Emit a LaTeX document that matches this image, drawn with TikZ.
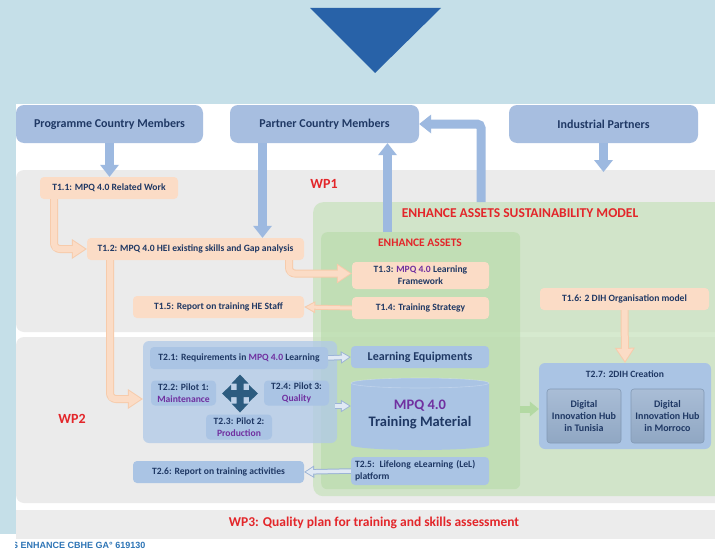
\documentclass[tikz,border=0pt]{standalone}
\usepackage{fontspec}
\setmainfont{Carlito}
\newfontfamily\footfont{Liberation Sans}
\usetikzlibrary{arrows.meta}
\definecolor{bgblue}{HTML}{C5DFE8}
\definecolor{tri}{HTML}{2862A8}
\definecolor{topbox}{HTML}{A7BEE0}
\definecolor{band}{HTML}{EBEBEB}
\definecolor{bandb}{HTML}{ECECEC}
\definecolor{greenout}{HTML}{C6E2BB}
\definecolor{greenin}{HTML}{B2DAA2}
\definecolor{peach}{HTML}{FBDCC6}
\definecolor{peachline}{HTML}{F7CBAB}
\definecolor{taskblue}{HTML}{AAC4E4}
\definecolor{grpblue}{HTML}{B0C9E8}
\definecolor{wpred}{HTML}{E3262A}
\definecolor{mpqpurple}{HTML}{7030A0}
\definecolor{navy}{HTML}{1F3864}
\definecolor{dihtop}{HTML}{A9BDD6}
\definecolor{dihbot}{HTML}{90A7C3}
\definecolor{dihline}{HTML}{8299B5}
\definecolor{fourc}{HTML}{2D5C80}
\definecolor{holfill}{HTML}{E0E9F4}
\definecolor{holline}{HTML}{9CB4D6}
\definecolor{solblue}{HTML}{9DB9E0}
\definecolor{garrow}{HTML}{B3D9A3}
\definecolor{foot}{HTML}{2E75B6}
\newcommand{\mpqc}[1]{{\color{mpqpurple}#1}}
\newcommand{\tfont}{\fontsize{9.6}{12}\selectfont\bfseries}
\begin{document}
\begin{tikzpicture}[x=1pt,y=-1pt,
  sz/.style 2 args={minimum width=#1pt, minimum height=#2pt},
  topnode/.style={rounded corners=8pt, fill=topbox, inner sep=0pt, text=navy,
    font=\fontsize{12}{14}\selectfont\bfseries},
  ptask/.style={rounded corners=4pt, fill=peach, inner sep=0pt, text=navy, align=center, font=\tfont},
  btask/.style={rounded corners=4pt, fill=taskblue, inner sep=0pt, text=navy, align=center, font=\tfont},
  wplabel/.style={text=wpred, font=\fontsize{14}{16}\selectfont\bfseries, inner sep=0pt},
  solarr/.style={draw=solblue, line width=9pt, -{Triangle[width=19pt,length=12pt,line width=0pt]}},
  pout/.style={draw=peachline, line width=8pt, -{Triangle[width=20pt,length=15pt,line width=0pt]}},
  pin/.style={draw=peach, line width=6pt, shorten >=1.8pt, -{Triangle[width=16.3pt,length=12.2pt,line width=0pt]}},
  pthinout/.style={draw=peachline, line width=5pt, -{Triangle[width=12pt,length=11pt,line width=0pt]}},
  pthinin/.style={draw=peach, line width=3pt, shorten >=2.1pt, -{Triangle[width=8.6pt,length=7.9pt,line width=0pt]}},
  hout/.style={draw=holline, line width=5.5pt, -{Triangle[width=12.5pt,length=10pt,line width=0pt]}},
  hin/.style={draw=holfill, line width=3.5pt, shorten >=1.7pt, -{Triangle[width=9pt,length=7.2pt,line width=0pt]}},
]
\useasboundingbox (0,0) rectangle (715,551);
% backgrounds
\fill[white] (0,0) rectangle (715,551);
\fill[bgblue] (0,0) rectangle (715,104);
\fill[bgblue] (0,0) rectangle (15.5,534);
\fill[tri] (310,8) -- (441,8) -- (375,73) -- cycle;
% bands
\fill[band, rounded corners=8pt] (16,170) rectangle (740,332);
\fill[band, rounded corners=8pt] (16,337) rectangle (740,503);
\fill[bandb] (16,510) rectangle (715,539);
% green areas
\node[fill=greenout, fill opacity=0.7, rounded corners=10pt, inner sep=0pt, sz={430}{294}, anchor=north west] (esm) at (313,202) {};
\node[fill=greenin, fill opacity=0.5, rounded corners=6pt, inner sep=0pt, sz={199}{257}, anchor=north west] (ea) at (321,232) {};
\node[text=wpred, font=\fontsize{13.5}{15}\selectfont\bfseries] (esmt) at (520,213) {ENHANCE ASSETS SUSTAINABILITY MODEL};
\node[text=wpred, font=\fontsize{11.5}{13}\selectfont\bfseries] (eat) at (420,243) {ENHANCE ASSETS};
% WP labels
\node[wplabel] (wp1) at (324,184) {WP1};
\node[wplabel] (wp2) at (72,419) {WP2};
\node[wplabel, font=\fontsize{13.5}{15}\selectfont\bfseries] (wp3) at (374,523) {WP3: Quality plan for training and skills assessment};
% top boxes
\node[topnode, sz={187}{38}] (pcm) at (109.5,124) {Programme Country Members};
\node[topnode, sz={189}{38}] (ptm) at (324.5,124) {Partner Country Members};
\node[topnode, sz={189}{38}] (ind) at (603.5,124) {Industrial Partners};
% WP1 tasks
\node[ptask, sz={138}{22}] (t11) at (109,188) {T1.1: MPQ 4.0 Related Work};
\node[ptask, sz={217}{22}] (t12) at (195.5,249) {T1.2: MPQ 4.0 HEI existing skills and Gap analysis};
\node[ptask, sz={171}{22}] (t15) at (218.5,307) {T1.5: Report on training HE Staff};
\node[ptask, sz={137}{27}] (t13) at (420.5,275.5) {T1.3: \mpqc{MPQ 4.0} Learning\\Framework};
\node[ptask, sz={137}{22}] (t14) at (420.5,308) {T1.4: Training Strategy};
\node[ptask, sz={169}{22}] (t16) at (624.5,299) {T1.6: 2 DIH Organisation model};
% WP2 group
\node[fill=grpblue, fill opacity=0.75, rounded corners=6pt, inner sep=0pt, sz={194}{102}] (grp) at (240,392) {};
\node[btask, sz={178}{22}] (t21) at (239,358) {T2.1: Requirements in \mpqc{MPQ 4.0} Learning};
\node[btask, sz={65}{25}] (t22) at (183.5,393) {T2.2: Pilot 1:\\\mpqc{Maintenance}};
\node[btask, sz={65}{25}] (t24) at (296.5,393) {T2.4: Pilot 3:\\\mpqc{Quality}};
\node[btask, sz={66}{25}] (t23) at (239,427) {T2.3: Pilot 2:\\\mpqc{Production}};
\coordinate (cross) at (240,393.5);
\fill[fourc, shift={(cross)}] (18,0) -- (9,-8.5) -- (9,-3.5) -- (3.5,-3.5) -- (3.5,-10) -- (8.5,-10) -- (0,-19)
  -- (-8.5,-10) -- (-3.5,-10) -- (-3.5,-3.5) -- (-9,-3.5) -- (-9,-8.5) -- (-18,0) -- (-9,8.5) -- (-9,3.5)
  -- (-3.5,3.5) -- (-3.5,10) -- (-8.5,10) -- (0,19) -- (8.5,10) -- (3.5,10) -- (3.5,3.5) -- (9,3.5) -- (9,8.5) -- cycle;
\node[btask, sz={138}{22}, font=\fontsize{12}{14}\selectfont\bfseries] (le) at (420,357) {Learning Equipments};
% cylinder
\fill[taskblue] (351,383) arc[start angle=180, end angle=0, x radius=69pt, y radius=5pt]
  -- (489,445) arc[start angle=0, end angle=-180, x radius=69pt, y radius=5pt] -- cycle;
\draw[white, opacity=0.25, line width=0.6pt] (420,383) ellipse[x radius=69pt, y radius=5pt];
\node[inner sep=0pt, sz={138}{72}, text=navy, align=center, font=\fontsize{14.5}{17}\selectfont\bfseries] (mpq) at (420,414) {\mpqc{MPQ 4.0}\\Training Material};
\node[btask, sz={138}{28}, text width=130pt, align=left] (t25) at (420,471) {T2.5: Lifelong eLearning (LeL)\\platform};
\node[btask, sz={171}{22}] (t26) at (218.5,472) {T2.6: Report on training activities};
% T2.7
\node[btask, rounded corners=6pt, sz={172}{86}] (t27) at (625,406) {};
\node[text=navy, font=\fontsize{9.6}{11}\selectfont\bfseries, anchor=north] (t27t) at ([yshift=-4pt]t27.north) {T2.7: 2DIH Creation};
\node[rounded corners=3pt, top color=dihtop, bottom color=dihbot, draw=dihline, line width=0.6pt, inner sep=0pt, sz={74}{54}, text=navy, align=center, font=\fontsize{10}{12}\selectfont\bfseries] (diht) at (584,416) {Digital\\Innovation Hub\\in Tunisia};
\node[rounded corners=3pt, top color=dihtop, bottom color=dihbot, draw=dihline, line width=0.6pt, inner sep=0pt, sz={73}{54}, text=navy, align=center, font=\fontsize{10}{12}\selectfont\bfseries] (dihm) at (667.5,416) {Digital\\Innovation Hub\\in Morroco};
% solid blue arrows
\draw[solarr] (pcm.south) -- (pcm.south |- t11.north);
\draw[solarr] ([xshift=-62pt]ptm.south) -- ([xshift=-62pt]ptm.south |- t12.north);
\coordinate (indtip) at (603.5,172);
\draw[solarr] (ind.south) -- (indtip);
\coordinate (u1) at (387.5,232);
\draw[solarr] (u1) -- (u1 |- ptm.south);
\coordinate (u2) at (481,202);
\draw[solarr, rounded corners=4pt] (u2) -- (u2 |- ptm.east) -- (ptm.east);
% peach arrows
\draw[pout, rounded corners=6pt] ([xshift=-55pt]t11.south) |- (t12.west);
\draw[pin, rounded corners=5pt] ([xshift=-55pt]t11.south) |- (t12.west);
\draw[pout, rounded corners=6pt] ([xshift=93.5pt]t12.south) |- ([yshift=2pt]t13.west);
\draw[pin, rounded corners=5pt] ([xshift=93.5pt]t12.south) |- ([yshift=2pt]t13.west);
\draw[pout, rounded corners=6pt] ([xshift=-85.5pt]t12.south) |- ([yshift=-7pt]grp.west);
\draw[pin, rounded corners=5pt] ([xshift=-85.5pt]t12.south) |- ([yshift=-7pt]grp.west);
\draw[pout] (t16.south) -- (t27.north);
\draw[pin] (t16.south) -- (t27.north);
\draw[pthinout] (t14.west) -- (t15.east);
\draw[pthinin] (t14.west) -- (t15.east);
% hollow blue arrows
\draw[hout] (t21.east) -- (le.west);
\draw[hin] (t21.east) -- (le.west);
\coordinate (c1) at (335,406);
\draw[hout] (c1) -- (c1 -| mpq.west);
\draw[hin] (c1) -- (c1 -| mpq.west);
\draw[hout] (t25.west) -- (t26.east);
\draw[hin] (t25.west) -- (t26.east);
% green arrow
\coordinate (g1) at (520,409);
\draw[draw=garrow, line width=7pt, -{Triangle[width=15pt,length=9pt,line width=0pt]}] (g1) -- (g1 -| t27.west);
% footer
\begin{scope}
\clip (15,538) rectangle (715,551);
\node[anchor=west, text=foot, inner sep=0pt, font=\footfont\fontsize{9}{10}\selectfont\bfseries] (foot) at (12,545.5) {S ENHANCE CBHE GA° 619130};
\end{scope}
\end{tikzpicture}
\end{document}
